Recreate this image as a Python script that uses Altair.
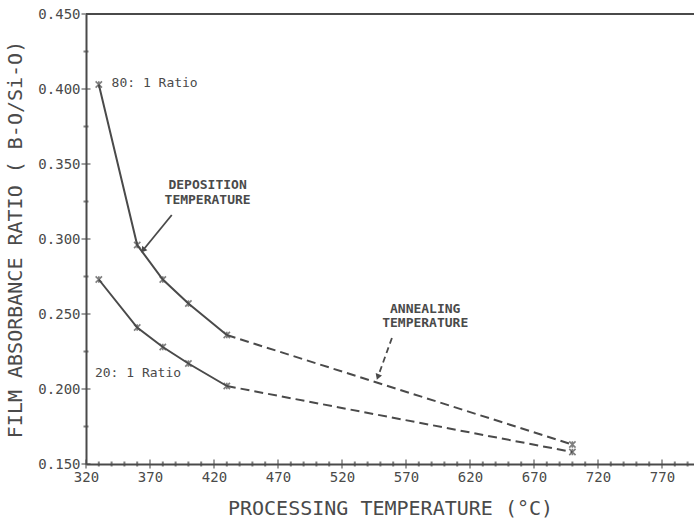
import altair as alt
import pandas as pd

# Processing temperature (°C) and B-O/Si-O absorbance ratio for each gas ratio
temps = [330, 360, 380, 400, 430, 700]
ratio_80 = [0.403, 0.296, 0.273, 0.257, 0.236, 0.163]
ratio_20 = [0.273, 0.241, 0.228, 0.217, 0.202, 0.158]
series_names = ["80: 1 Ratio", "20: 1 Ratio"]

# Axis ticks
x_major = [320, 370, 420, 470, 520, 570, 620, 670, 720, 770]
x_minor = [t for t in range(330, 800, 10) if (t - 320) % 50 != 0]
y_major = [0.150, 0.200, 0.250, 0.300, 0.350, 0.400, 0.450]
y_minor = [0.175, 0.225, 0.275, 0.325, 0.375, 0.425]

# Annotation text (data coordinates)
note_x = [340, 327]
note_y = [0.404, 0.2107]
call_lines = ["DEPOSITION", "TEMPERATURE", "ANNEALING", "TEMPERATURE"]
call_x = [415, 415, 585, 585]
call_y = [0.336, 0.326, 0.2535, 0.2440]
arrow_x = [387, 364.5]
arrow_y = [0.316, 0.2925]
arrow2_x = [559, 548]
arrow2_y = [0.234, 0.208]

INK = "#4a4a4a"
MONO = "DejaVu Sans Mono"

X_DOMAIN = [320, 795]
Y_DOMAIN = [0.150, 0.450]

xs = alt.Scale(domain=X_DOMAIN, nice=False, zero=False)
ys = alt.Scale(domain=Y_DOMAIN, nice=False, zero=False)

rows = []
for name, vals in zip(series_names, [ratio_80, ratio_20]):
    for i, (t, v) in enumerate(zip(temps, vals)):
        rows.append({"series": name, "temp": t, "ratio": v,
                     "part": "deposition" if i < len(temps) - 1 else "end"})
df = pd.DataFrame(rows)

solid = df[df["part"] == "deposition"]
dashed = pd.concat([df[df["temp"] == 430], df[df["temp"] == 700]])

x_axis = alt.Axis(values=x_major, title="PROCESSING TEMPERATURE (°C)", ticks=False,
                  grid=False, domainColor=INK, domainWidth=2, labelFont=MONO,
                  labelFontSize=14, labelColor=INK, labelPadding=6,
                  titleFont=MONO, titleFontSize=20, titleFontWeight="normal",
                  titleColor=INK, titlePadding=14, labelFlush=False)
y_axis = alt.Axis(values=y_major, format=".3f", title="FILM ABSORBANCE RATIO ( B-O/Si-O)",
                  ticks=False, grid=False, domainColor=INK, domainWidth=2,
                  labelFont=MONO, labelFontSize=14, labelColor=INK, labelPadding=6,
                  titleFont=MONO, titleFontSize=20, titleFontWeight="normal",
                  titleColor=INK, titlePadding=12, labelFlush=False)

base = alt.Chart(solid).mark_line(color=INK, strokeWidth=2).encode(
    x=alt.X("temp:Q", scale=xs, axis=x_axis),
    y=alt.Y("ratio:Q", scale=ys, axis=y_axis),
    detail="series:N",
)

dash = alt.Chart(dashed).mark_line(color=INK, strokeWidth=2, strokeDash=[9, 5]).encode(
    x=alt.X("temp:Q", scale=xs), y=alt.Y("ratio:Q", scale=ys), detail="series:N")

points = alt.Chart(df).mark_point(
    shape="M-1,-1L1,1M-1,1L1,-1M0,-1L0,1", size=40, color=INK, strokeWidth=1.6,
    filled=False).encode(x=alt.X("temp:Q", scale=xs), y=alt.Y("ratio:Q", scale=ys))

top_frame = alt.Chart(pd.DataFrame({"v": [Y_DOMAIN[1]]})).mark_rule(
    color=INK, strokeWidth=2).encode(y=alt.Y("v:Q", scale=ys))

# Ticks that cross the axis lines
xt_major = alt.Chart(pd.DataFrame({"t": x_major, "b": [Y_DOMAIN[0]] * len(x_major)})).mark_tick(
    orient="vertical", size=9, thickness=1.5, color=INK).encode(
    x=alt.X("t:Q", scale=xs), y=alt.Y("b:Q", scale=ys))
xt_minor = alt.Chart(pd.DataFrame({"t": x_minor, "b": [Y_DOMAIN[0]] * len(x_minor)})).mark_tick(
    orient="vertical", size=5, thickness=2, color=INK).encode(
    x=alt.X("t:Q", scale=xs), y=alt.Y("b:Q", scale=ys))
yt_major = alt.Chart(pd.DataFrame({"t": y_major, "b": [X_DOMAIN[0]] * len(y_major)})).mark_tick(
    orient="horizontal", size=9, thickness=1.5, color=INK).encode(
    y=alt.Y("t:Q", scale=ys), x=alt.X("b:Q", scale=xs))
yt_minor = alt.Chart(pd.DataFrame({"t": y_minor, "b": [X_DOMAIN[0]] * len(y_minor)})).mark_tick(
    orient="horizontal", size=5, thickness=2, color=INK).encode(
    y=alt.Y("t:Q", scale=ys), x=alt.X("b:Q", scale=xs))

notes = alt.Chart(pd.DataFrame({"x": note_x, "y": note_y, "label": series_names})).mark_text(
    align="left", baseline="middle", font=MONO, fontSize=13, color=INK).encode(
    x=alt.X("x:Q", scale=xs), y=alt.Y("y:Q", scale=ys), text="label:N")

callouts = alt.Chart(pd.DataFrame({"x": call_x, "y": call_y, "label": call_lines})).mark_text(
    align="center", baseline="middle", font=MONO, fontSize=13, fontWeight="bold",
    color=INK).encode(x=alt.X("x:Q", scale=xs), y=alt.Y("y:Q", scale=ys), text="label:N")

arrow1 = alt.Chart(pd.DataFrame({"x": arrow_x, "y": arrow_y, "k": [0, 1]})).mark_line(
    color=INK, strokeWidth=1.8).encode(
    x=alt.X("x:Q", scale=xs), y=alt.Y("y:Q", scale=ys), order="k:O")
head1 = alt.Chart(pd.DataFrame({"x": arrow_x[-1:], "y": arrow_y[-1:]})).mark_point(
    shape="triangle-up", size=45, filled=True, color=INK, opacity=1, angle=220).encode(
    x=alt.X("x:Q", scale=xs), y=alt.Y("y:Q", scale=ys))

arrow2 = alt.Chart(pd.DataFrame({"x": arrow2_x, "y": arrow2_y, "k": [0, 1]})).mark_line(
    color=INK, strokeWidth=1.8, strokeDash=[6, 4]).encode(
    x=alt.X("x:Q", scale=xs), y=alt.Y("y:Q", scale=ys), order="k:O")
head2 = alt.Chart(pd.DataFrame({"x": arrow2_x[-1:], "y": arrow2_y[-1:]})).mark_point(
    shape="triangle-up", size=45, filled=True, color=INK, opacity=1, angle=200).encode(
    x=alt.X("x:Q", scale=xs), y=alt.Y("y:Q", scale=ys))

chart = alt.layer(
    base, dash, points, top_frame, xt_major, xt_minor, yt_major, yt_minor,
    notes, callouts, arrow1, head1, arrow2, head2,
).properties(
    width=608, height=450,
    autosize="none",
    padding={"left": 86, "top": 14, "right": 0, "bottom": 60},
    background="white",
).configure_view(stroke=None)

chart.save("out.html", embed_options={"renderer": "svg", "actions": False})
